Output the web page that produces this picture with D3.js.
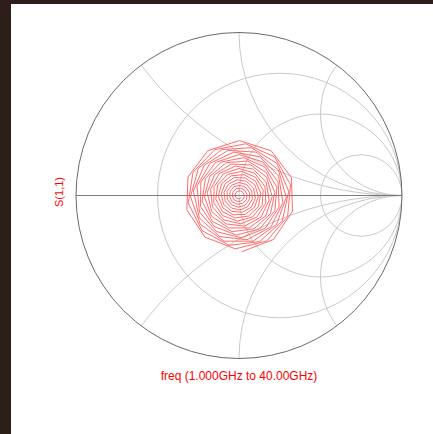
<!DOCTYPE html>
<html>
<head>
<meta charset="utf-8">
<script src="https://cdn.jsdelivr.net/npm/d3@7"></script>
<style>
  html, body { margin: 0; padding: 0; background: #2d1e19; overflow: hidden; }
  svg { display: block; }
</style>
</head>
<body>
<script>
// Trace: S(1,1), 1.0 GHz to 40.0 GHz in 0.2 GHz steps (196 points)
const traceName = "S(1,1)";
const freqStartGHz = 1.0;
const freqStopGHz = 40.0;

// |S11| (linear)
const s11Mag = [
  0.018, 0.020, 0.021, 0.023, 0.025, 0.026, 0.028, 0.030, 0.031, 0.033,
  0.035, 0.036, 0.038, 0.040, 0.041, 0.043, 0.045, 0.046, 0.048, 0.050,
  0.052, 0.053, 0.055, 0.057, 0.058, 0.060, 0.062, 0.063, 0.065, 0.067,
  0.068, 0.070, 0.072, 0.073, 0.075, 0.077, 0.078, 0.080, 0.082, 0.083,
  0.085, 0.087, 0.089, 0.090, 0.092, 0.094, 0.095, 0.097, 0.099, 0.100,
  0.102, 0.104, 0.105, 0.107, 0.109, 0.110, 0.112, 0.114, 0.115, 0.117,
  0.119, 0.120, 0.122, 0.124, 0.125, 0.127, 0.129, 0.130, 0.132, 0.134,
  0.135, 0.137, 0.139, 0.140, 0.142, 0.144, 0.146, 0.147, 0.149, 0.151,
  0.152, 0.154, 0.156, 0.157, 0.159, 0.161, 0.162, 0.164, 0.166, 0.167,
  0.169, 0.171, 0.172, 0.174, 0.176, 0.177, 0.179, 0.181, 0.182, 0.184,
  0.186, 0.187, 0.189, 0.191, 0.192, 0.194, 0.196, 0.197, 0.199, 0.201,
  0.203, 0.204, 0.206, 0.208, 0.209, 0.211, 0.213, 0.214, 0.216, 0.218,
  0.219, 0.221, 0.223, 0.224, 0.226, 0.228, 0.229, 0.231, 0.233, 0.234,
  0.236, 0.238, 0.239, 0.241, 0.243, 0.244, 0.246, 0.248, 0.249, 0.251,
  0.253, 0.254, 0.256, 0.258, 0.260, 0.261, 0.263, 0.264, 0.266, 0.268,
  0.270, 0.271, 0.273, 0.275, 0.276, 0.278, 0.280, 0.281, 0.283, 0.285,
  0.286, 0.288, 0.290, 0.291, 0.293, 0.295, 0.296, 0.298, 0.300, 0.301,
  0.303, 0.305, 0.306, 0.308, 0.310, 0.311, 0.313, 0.315, 0.316, 0.318,
  0.320, 0.322, 0.323, 0.325, 0.327, 0.328, 0.330, 0.332, 0.333, 0.335,
  0.337, 0.338, 0.340, 0.342, 0.343, 0.345
];

// phase(S11) in degrees
const s11PhaseDeg = [
  -43.5, -78.8, -114.1, -149.4, 175.3, 140.0, 104.7, 69.4, 34.1, -1.2,
  -36.5, -71.8, -107.1, -142.4, -177.7, 147.0, 111.7, 76.4, 41.1, 5.8,
  -29.5, -64.8, -100.1, -135.4, -170.7, 154.0, 118.7, 83.4, 48.1, 12.8,
  -22.5, -57.8, -93.1, -128.4, -163.7, 161.0, 125.7, 90.4, 55.1, 19.8,
  -15.5, -50.8, -86.1, -121.4, -156.7, 168.0, 132.7, 97.4, 62.1, 26.8,
  -8.5, -43.8, -79.1, -114.4, -149.7, 175.0, 139.7, 104.4, 69.1, 33.8,
  -1.5, -36.8, -72.1, -107.4, -142.7, -178.0, 146.7, 111.4, 76.1, 40.8,
  5.5, -29.8, -65.1, -100.4, -135.7, -171.0, 153.7, 118.4, 83.1, 47.8,
  12.5, -22.8, -58.1, -93.4, -128.7, -164.0, 160.7, 125.4, 90.1, 54.8,
  19.5, -15.8, -51.1, -86.4, -121.7, -157.0, 167.7, 132.4, 97.1, 61.8,
  26.5, -8.8, -44.1, -79.4, -114.7, -150.0, 174.7, 139.4, 104.1, 68.8,
  33.5, -1.8, -37.1, -72.4, -107.7, -143.0, -178.3, 146.4, 111.1, 75.8,
  40.5, 5.2, -30.1, -65.4, -100.7, -136.0, -171.3, 153.4, 118.1, 82.8,
  47.5, 12.2, -23.1, -58.4, -93.7, -129.0, -164.3, 160.4, 125.1, 89.8,
  54.5, 19.2, -16.1, -51.4, -86.7, -122.0, -157.3, 167.4, 132.1, 96.8,
  61.5, 26.2, -9.1, -44.4, -79.7, -115.0, -150.3, 174.4, 139.1, 103.8,
  68.5, 33.2, -2.1, -37.4, -72.7, -108.0, -143.3, -178.6, 146.1, 110.8,
  75.5, 40.2, 4.9, -30.4, -65.7, -101.0, -136.3, -171.6, 153.1, 117.8,
  82.5, 47.2, 11.9, -23.4, -58.7, -94.0, -129.3, -164.6, 160.1, 124.8,
  89.5, 54.2, 18.9, -16.4, -51.7, -87.0
];

// Smith chart grid: normalized resistance circles and reactance arcs
const resistanceCircles = [1 / 3, 1, 3];
const reactanceArcs = [0.5, 1, 2, -0.5, -1, -2];

const W = 433, H = 434;
const cx = 239, cy = 195.5, R = 163;

const svg = d3.select("body").append("svg")
  .attr("width", W).attr("height", H);

// white plot panel
svg.append("rect")
  .attr("x", 11).attr("y", 4)
  .attr("width", W - 11).attr("height", H - 4)
  .attr("fill", "#ffffff");

// reflection-coefficient plane -> pixels
const x = d3.scaleLinear().domain([-1, 1]).range([cx - R, cx + R]);
const y = d3.scaleLinear().domain([-1, 1]).range([cy + R, cy - R]);
const unit = x(1) - x(0);

svg.append("defs").append("clipPath").attr("id", "unitDisk")
  .append("circle").attr("cx", x(0)).attr("cy", y(0)).attr("r", unit);

const grid = svg.append("g")
  .attr("clip-path", "url(#unitDisk)")
  .attr("fill", "none")
  .attr("stroke", "#c9c9c9")
  .attr("stroke-width", 1);

grid.selectAll("circle.r").data(resistanceCircles).join("circle")
  .attr("class", "r")
  .attr("cx", r => x(r / (1 + r)))
  .attr("cy", y(0))
  .attr("r", r => unit / (1 + r));

grid.selectAll("circle.x").data(reactanceArcs).join("circle")
  .attr("class", "x")
  .attr("cx", x(1))
  .attr("cy", v => y(1 / v))
  .attr("r", v => unit / Math.abs(v));

// real axis
svg.append("line")
  .attr("x1", x(-1)).attr("x2", x(1))
  .attr("y1", y(0)).attr("y2", y(0))
  .attr("stroke", "#7d7d7d").attr("stroke-width", 1);

// |Gamma| = 1 boundary
svg.append("circle")
  .attr("cx", x(0)).attr("cy", y(0)).attr("r", unit)
  .attr("fill", "none").attr("stroke", "#6a6a6a").attr("stroke-width", 1);

// S11 trace
const pts = s11Mag.map((m, i) => {
  const a = s11PhaseDeg[i] * Math.PI / 180;
  return [m * Math.cos(a), m * Math.sin(a)];
});
svg.append("path")
  .datum(pts)
  .attr("fill", "none")
  .attr("stroke", "#ff4545")
  .attr("stroke-width", 0.8)
  .attr("stroke-linejoin", "miter")
  .attr("d", d3.line().x(d => x(d[0])).y(d => y(d[1])));

const font = "'Liberation Sans', Arial, sans-serif";

svg.append("text")
  .attr("transform", `translate(63,192) rotate(-90)`)
  .attr("text-anchor", "middle")
  .attr("font-family", font)
  .attr("font-size", 11)
  .attr("fill", "#ff0000")
  .text(traceName);

svg.append("text")
  .attr("x", x(0)).attr("y", 380)
  .attr("text-anchor", "middle")
  .attr("font-family", font)
  .attr("font-size", 12)
  .attr("fill", "#ff0000")
  .text(`freq (${freqStartGHz.toFixed(3)}GHz to ${freqStopGHz.toFixed(2)}GHz)`);
</script>
</body>
</html>
